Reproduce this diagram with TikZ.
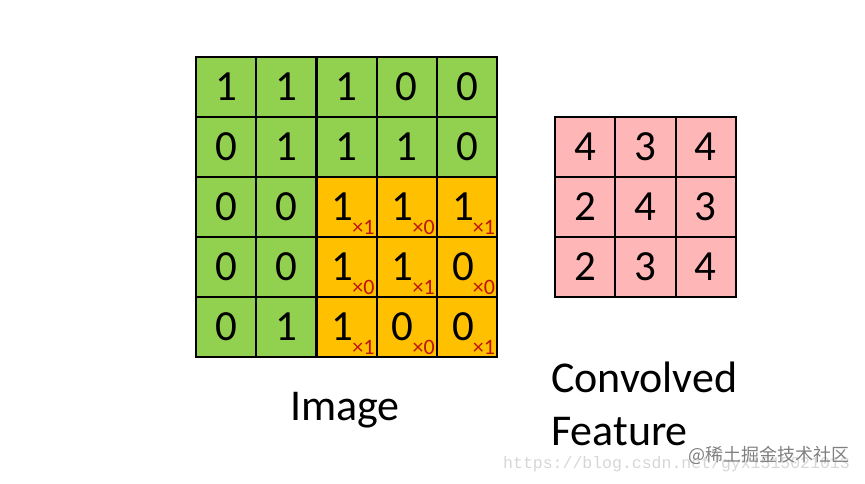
\documentclass[tikz,border=0pt]{standalone}
\usepackage{fontspec}
\setmainfont{Carlito}
\newfontfamily\cjk{Noto Sans CJK SC}
\newfontfamily\urlfont{Liberation Mono}
\usepackage{xcolor}
\usetikzlibrary{positioning}
\definecolor{imggreen}{RGB}{146,208,80}
\definecolor{imgorange}{RGB}{255,192,0}
\definecolor{featpink}{RGB}{255,182,182}
\definecolor{wtred}{RGB}{190,20,10}

\begin{document}
\begin{tikzpicture}[x=1pt, y=-1pt,
    cell/.style={draw=black, line width=2.2pt, minimum width=60.2pt,
                 minimum height=60pt, inner sep=0pt,
                 font=\fontsize{43}{43}\selectfont},
    wt/.style  ={inner sep=0pt, text=wtred, font=\fontsize{22}{22}\selectfont},
    lbl/.style ={inner sep=0pt, font=\fontsize{44}{53}\selectfont},
    wmark/.style={inner sep=0pt, text=black!50, font=\cjk\fontsize{18}{18}\selectfont},
  ]
  \useasboundingbox (0,0) rectangle (865,483);
  % watermark url
  \node[inner sep=0pt, anchor=west, text=black!16, font=\urlfont\fontsize{16.5}{16.5}\selectfont] (url) at (503,464)
       {https://blog.csdn.net/gyx1515021013};
  % input image
  \foreach \row [count=\r from 0] in {{1,1,1,0,0},{0,1,1,1,0},{0,0,1,1,1},{0,0,1,1,0},{0,1,1,0,0}}{
    \foreach \v [count=\c from 0] in \row {
      \pgfmathtruncatemacro\hot{(\r>1)&&(\c>1)}
      \ifnum\hot=1
        \node[cell, fill=imgorange] (img-\r-\c) at (226.1+60.2*\c, 87+60*\r) {\v\kern8pt};
      \else
        \node[cell, fill=imggreen] (img-\r-\c) at (226.1+60.2*\c, 87+60*\r) {\v};
      \fi
    }
  }
  % kernel weights
  \foreach \w [count=\k from 0] in {1,0,1,0,1,0,1,0,1}{
    \pgfmathtruncatemacro\r{2+int(\k/3)}
    \pgfmathtruncatemacro\c{2+mod(\k,3)}
    \node[wt, anchor=south east, xshift=-3pt, yshift=3pt] (wt-\k) at (img-\r-\c.south east) {×\w};
  }
  % convolved feature
  \foreach \row [count=\r from 0] in {{4,3,4},{2,4,3},{2,3,4}}{
    \foreach \v [count=\c from 0] in \row
      \node[cell, fill=featpink, minimum width=60.3pt] (ft-\r-\c) at (585.2+60.3*\c, 147+60*\r) {\v};
  }
  % captions
  \node[lbl] (img) at (345,410) {Image};
  \node[lbl, anchor=north west, align=left] (ft) at (551,362) {Convolved\\Feature};
  \node[wmark, anchor=west] (wm) at (688,455) {@稀土掘金技术社区};
\end{tikzpicture}
\end{document}
